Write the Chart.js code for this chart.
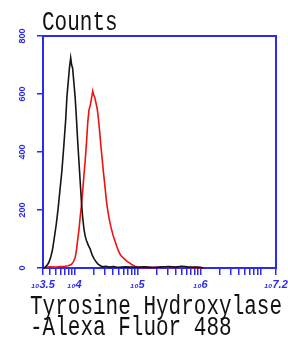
<!DOCTYPE html>
<html>
<head>
<meta charset="utf-8">
<script src="https://cdn.jsdelivr.net/npm/chart.js@4.4.1/dist/chart.umd.min.js"></script>
<style>
  html, body { margin: 0; padding: 0; background: #fff; }
</style>
</head>
<body>
<canvas id="flow" width="288" height="338"></canvas>
<script>
// log10 of fluorescence intensity / cell counts
const blackX = [3.50, 3.53, 3.56, 3.59, 3.62, 3.65, 3.68, 3.71, 3.74, 3.77, 3.80, 3.83, 3.86, 3.88, 3.90, 3.92, 3.94, 3.955, 3.97, 3.99,
                4.01, 4.03, 4.05, 4.07, 4.09, 4.11, 4.13, 4.15, 4.17, 4.19, 4.22, 4.25, 4.28, 4.31, 4.34, 4.37, 4.41, 4.45, 4.50, 4.55,
                4.62, 4.70, 4.80, 4.90, 5.00, 5.10, 5.20, 5.35, 5.50, 5.60, 5.70, 5.80, 5.90, 6.00, 6.05];
const blackY = [0, 2, 8, 18, 35, 62, 105, 150, 205, 270, 335, 420, 510, 590, 640, 690, 725, 700, 690, 640,
                590, 520, 440, 370, 300, 230, 175, 135, 110, 95, 78, 65, 45, 32, 22, 14, 8, 4, 6, 3,
                5, 2, 4, 3, 2, 4, 2, 3, 5, 3, 6, 4, 3, 2, 0];

const redX = [3.50, 3.55, 3.60, 3.70, 3.78, 3.85, 3.90, 3.95, 3.98, 4.01, 4.03, 4.05, 4.07, 4.09, 4.11, 4.13, 4.15, 4.17, 4.19, 4.21,
              4.23, 4.25, 4.27, 4.29, 4.30, 4.32, 4.34, 4.36, 4.38, 4.40, 4.42, 4.44, 4.46, 4.48, 4.50, 4.52, 4.55, 4.58, 4.61, 4.64,
              4.67, 4.70, 4.73, 4.76, 4.80, 4.84, 4.88, 4.92, 4.96, 5.00, 5.05, 5.15, 5.25, 5.35, 5.45, 5.55, 5.65, 5.75, 5.85, 5.95, 6.05];
const redY = [0, 2, 4, 3, 5, 6, 8, 12, 20, 35, 60, 95, 130, 175, 215, 265, 320, 370, 430, 500,
              545, 560, 585, 610, 600, 590, 570, 550, 515, 470, 420, 375, 330, 290, 245, 210, 170, 140, 115, 95,
              75, 58, 45, 38, 30, 22, 17, 10, 6, 4, 2, 3, 1, 4, 2, 3, 2, 4, 1, 2, 0];

const yTicks = [0, 200, 400, 600, 800];
const xMajor = [3.5, 4, 5, 6, 7.2];
const xMajorLabels = ['3.5', '4', '5', '6', '7.2'];
const yTitle = 'Counts';
const xTitle = ['Tyrosine Hydroxylase', '-Alexa Fluor 488'];

const BLUE = '#2b2bef';

// log minor ticks between the decades
let xTicks = xMajor.slice();
for (let d = 3; d <= 7; d++) {
  for (let k = 2; k <= 9; k++) {
    const v = d + Math.log10(k);
    if (v > 3.5 && v < 7.2) xTicks.push(v);
  }
}
xTicks.sort((a, b) => a - b);

// titles are a tall mono face in the original, so stretch a bit
function tallText(ctx, txt, x, y) {
  ctx.save();
  ctx.translate(x, y);
  ctx.scale(1, 1.3);
  ctx.fillText(txt, 0, 0);
  ctx.restore();
}

const frame = {
  id: 'frame',
  beforeDatasetsDraw(chart) {
    const { ctx, chartArea: a } = chart;
    ctx.save();
    ctx.strokeStyle = BLUE;
    ctx.lineWidth = 2;
    ctx.strokeRect(a.left, a.top, a.right - a.left, a.bottom - a.top);
    ctx.restore();
  },
  afterDraw(chart) {
    const { ctx, chartArea: a } = chart;
    ctx.save();
    ctx.fillStyle = '#111';
    ctx.font = '21px "Liberation Mono", monospace';
    ctx.textBaseline = 'alphabetic';
    tallText(ctx, yTitle, a.left - 1, 30);
    tallText(ctx, xTitle[0], 30, 314);
    tallText(ctx, xTitle[1], 30, 335);
    ctx.restore();
  }
};

new Chart(document.getElementById('flow'), {
  type: 'line',
  data: {
    datasets: [
      { data: blackX.map((x, i) => ({ x, y: blackY[i] })), borderColor: '#151515' },
      { data: redX.map((x, i) => ({ x, y: redY[i] })), borderColor: '#ee1111' }
    ]
  },
  options: {
    responsive: false,
    animation: false,
    devicePixelRatio: 1,
    layout: { padding: { top: 36, right: 12, left: 0, bottom: 0 } },
    elements: {
      point: { radius: 0 },
      line: { borderWidth: 1.6, tension: 0 }
    },
    datasets: { line: { clip: 4 } },
    plugins: { legend: { display: false }, tooltip: { enabled: false } },
    scales: {
      x: {
        type: 'linear', min: 3.5, max: 7.2,
        afterBuildTicks: s => { s.ticks = xTicks.map(v => ({ value: v })); },
        afterFit: s => { s.height = 70; s.paddingLeft = 0; s.paddingRight = 0; },
        ticks: {
          autoSkip: false, maxRotation: 0, padding: 3, color: BLUE,
          font: { family: 'Liberation Sans', size: 11, style: 'italic', weight: 'bold' },
          callback: v => {
            const i = xMajor.findIndex(m => Math.abs(m - v) < 1e-9);
            return i < 0 ? '' : '\u2081\u2080' + xMajorLabels[i];
          }
        },
        grid: { drawOnChartArea: false, tickLength: 7, color: BLUE, lineWidth: 1.5 },
        border: { color: BLUE, width: 2 }
      },
      y: {
        min: 0, max: 800,
        afterBuildTicks: s => { s.ticks = yTicks.map(v => ({ value: v })); },
        afterFit: s => { s.width = 43; s.paddingTop = 0; s.paddingBottom = 0; },
        ticks: {
          minRotation: 90, maxRotation: 90, crossAlign: 'center', padding: 7, color: BLUE,
          font: { family: 'Liberation Sans', size: 9, weight: 'bold' }
        },
        grid: { drawOnChartArea: false, tickLength: 6, color: BLUE, lineWidth: 1.5 },
        border: { color: BLUE, width: 2 }
      }
    }
  },
  plugins: [frame]
});
</script>
</body>
</html>
